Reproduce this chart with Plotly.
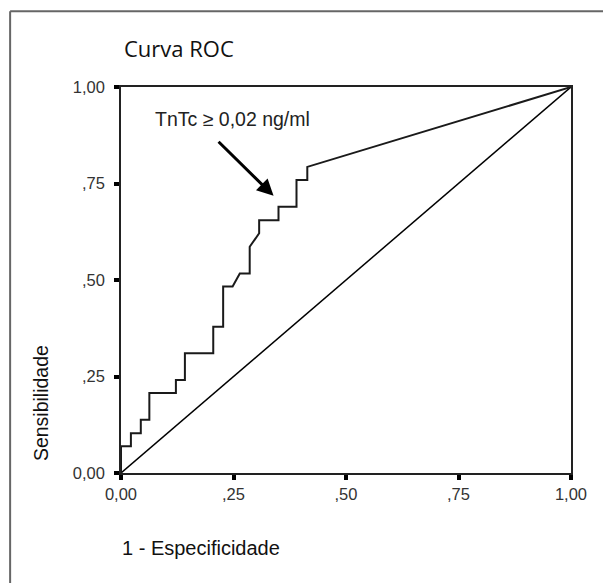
import plotly.graph_objects as go

# ROC curve (1 - especificidade, sensibilidade)
fpr = [0.0, 0.0, 0.022, 0.022, 0.044, 0.044, 0.063, 0.063, 0.122, 0.122, 0.142, 0.142,
       0.205, 0.205, 0.227, 0.227, 0.248, 0.264, 0.286, 0.286, 0.307, 0.307, 0.350, 0.350,
       0.390, 0.390, 0.414, 0.414, 1.0]
tpr = [0.0, 0.069, 0.069, 0.103, 0.103, 0.138, 0.138, 0.207, 0.207, 0.241, 0.241, 0.310,
       0.310, 0.379, 0.379, 0.483, 0.483, 0.517, 0.517, 0.586, 0.621, 0.655, 0.655, 0.690,
       0.690, 0.759, 0.759, 0.793, 1.0]
ref_x = [0.0, 1.0]
ref_y = [0.0, 1.0]

tick_vals = [0, 0.25, 0.5, 0.75, 1.0]
tick_text = ["0,00", ",25", ",50", ",75", "1,00"]

# page has an 8px body margin; compensate so the figure fits the 611x583 window
OFF = 8
W, H = 611 - OFF, 583 - OFF
L, R, T, B = 112.5, 40, 78.5, 109.5

fig = go.Figure()
fig.add_trace(go.Scatter(x=ref_x, y=ref_y, mode="lines",
                         line=dict(color="black", width=1.5), hoverinfo="skip"))
fig.add_trace(go.Scatter(x=fpr, y=tpr, mode="lines",
                         line=dict(color="#1a1a1a", width=2), hoverinfo="skip"))

axis_common = dict(range=[0, 1], tickvals=tick_vals, ticktext=tick_text,
                   showgrid=False, zeroline=False, showline=True, linecolor="#222",
                   linewidth=1.5, mirror=True, ticks="outside", ticklen=5, tickwidth=4,
                   tickcolor="black",
                   tickfont=dict(family="Liberation Sans, Arial", size=16.5, color="#333"))

fig.update_layout(
    width=W, height=H,
    margin=dict(l=L, r=R, t=T, b=B),
    paper_bgcolor="white", plot_bgcolor="white",
    showlegend=False,
    xaxis=dict(**axis_common),
    yaxis=dict(**axis_common, ticklabelstandoff=6),
)

fig.add_annotation(x=0.339, y=0.718, ax=0.2135, ay=0.862, xref="x", yref="y",
                   axref="x", ayref="y", text="", showarrow=True,
                   arrowhead=2, arrowsize=1.1, arrowwidth=3, arrowcolor="black")
fig.add_annotation(x=0.248, y=0.917, xref="x", yref="y", text="TnTc ≥ 0,02 ng/ml",
                   showarrow=False,
                   font=dict(family="Liberation Sans, Arial", size=19.5, color="#222"))

pw = W - L - R
ph = H - T - B
def px(x):
    return (x - OFF - L) / pw
def py(y):
    return (H - B - (y - OFF)) / ph

fig.add_annotation(x=px(122), y=py(47), xref="paper", yref="paper", text="Curva ROC",
                   showarrow=False, xanchor="left", yanchor="middle",
                   font=dict(family="Open Sans", size=22, color="#111"))
fig.add_annotation(x=px(119), y=py(549), xref="paper", yref="paper",
                   text="1 - Especificidade",
                   showarrow=False, xanchor="left", yanchor="middle",
                   font=dict(family="Liberation Sans, Arial", size=20, color="#111"))
fig.add_annotation(x=px(40), y=py(464), xref="paper", yref="paper", text="Sensibilidade",
                   showarrow=False, textangle=-90, xanchor="center", yanchor="bottom",
                   font=dict(family="Liberation Sans, Arial", size=19.5, color="#111"))

fig.add_shape(type="line", xref="paper", yref="paper",
              x0=px(9.5), y0=py(10.5), x1=px(615), y1=py(10.5),
              line=dict(color="#666", width=2))
fig.add_shape(type="line", xref="paper", yref="paper",
              x0=px(9.5), y0=py(10.5), x1=px(9.5), y1=py(590),
              line=dict(color="#666", width=2))

fig.write_html("out.html")
